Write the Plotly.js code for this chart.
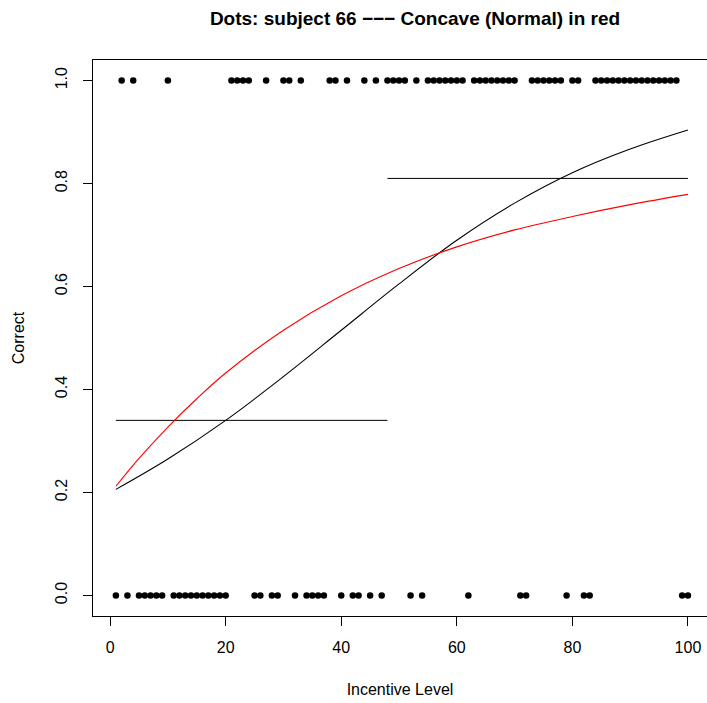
<!DOCTYPE html>
<html>
<head>
<meta charset="utf-8">
<script src="https://cdn.plot.ly/plotly-3.0.1.min.js"></script>
<style>html,body{margin:0;padding:0;background:#fff;}#chart{width:707px;height:703px;}</style>
</head>
<body>
<div id="chart"></div>
<script>
// Observed trials: incentive level and correct (0/1)
var incentive = [1,2,3,4,5,6,7,8,9,10,11,12,13,14,15,16,17,18,19,20,
  21,22,23,24,25,26,27,28,29,30,31,32,33,34,35,36,37,38,39,40,
  41,42,43,44,45,46,47,48,49,50,51,52,53,54,55,56,57,58,59,60,
  61,62,63,64,65,66,67,68,69,70,71,72,73,74,75,76,77,78,79,80,
  81,82,83,84,85,86,87,88,89,90,91,92,93,94,95,96,97,98,99,100];
var correct = [0,1,0,1,0,0,0,0,0,1,0,0,0,0,0,0,0,0,0,0,
  1,1,1,1,0,0,1,0,0,1,1,0,1,0,0,0,0,1,1,0,
  1,0,0,1,0,1,0,1,1,1,1,0,1,0,1,1,1,1,1,1,
  1,0,1,1,1,1,1,1,1,1,0,0,1,1,1,1,1,1,0,1,
  1,0,0,1,1,1,1,1,1,1,1,1,1,1,1,1,1,1,0,0];

// Group means (horizontal segments)
var lowSegX = [1, 48];
var lowSegY = [0.34, 0.34];
var highSegX = [48, 100];
var highSegY = [0.81, 0.81];

// Black fitted curve
var blackX = [1, 10, 20, 30, 40, 50, 60, 70, 80, 90, 100];
var blackY = [0.206, 0.265, 0.34, 0.425, 0.515, 0.605, 0.69, 0.762, 0.821, 0.867, 0.904];

// Red concave curve
var redX = [1, 5, 10, 15, 20, 30, 40, 50, 60, 70, 80, 90, 100];
var redY = [0.212, 0.266, 0.327, 0.382, 0.432, 0.515, 0.582, 0.635, 0.677, 0.71, 0.736, 0.759, 0.779];

var xTicks = [0, 20, 40, 60, 80, 100];
var yTicks = [0, 0.2, 0.4, 0.6, 0.8, 1.0];

var FONT = "Liberation Sans, Arial, Helvetica, sans-serif";

var traces = [
  {x: incentive, y: correct, type: 'scatter', mode: 'markers',
   marker: {color: '#000', size: 6.5}, hoverinfo: 'none'},
  {x: lowSegX, y: lowSegY, type: 'scatter', mode: 'lines',
   line: {color: '#000', width: 1}},
  {x: highSegX, y: highSegY, type: 'scatter', mode: 'lines',
   line: {color: '#000', width: 1}},
  {x: blackX, y: blackY, type: 'scatter', mode: 'lines',
   line: {color: '#000', width: 1.1, shape: 'spline', smoothing: 1}},
  {x: redX, y: redY, type: 'scatter', mode: 'lines',
   line: {color: '#ff0000', width: 1.1, shape: 'spline', smoothing: 1}}
];

var layout = {
  width: 707, height: 703,
  paper_bgcolor: '#fff', plot_bgcolor: '#fff',
  showlegend: false,
  font: {family: FONT, size: 16, color: '#000'},
  margin: {l: 93, r: 0, t: 60, b: 87, pad: 0},
  title: {text: '<b>Dots: subject 66 \u2212\u2212\u2212 Concave (Normal) in red</b>',
          font: {family: FONT, size: 19, color: '#000'},
          xref: 'container', yref: 'container', x: 415/707, y: 1 - 18/703,
          xanchor: 'center', yanchor: 'middle'},
  xaxis: {
    range: [-2.96, 103.3], autorange: false,
    tickvals: xTicks, ticktext: xTicks.map(String),
    ticks: 'outside', ticklen: 9, tickwidth: 1, tickcolor: '#000',
    ticklabelstandoff: 8,
    showline: true, linecolor: '#000', linewidth: 1, mirror: true,
    showgrid: false, zeroline: false,
    tickfont: {family: FONT, size: 16, color: '#000'},
    title: {text: 'Incentive Level', font: {family: FONT, size: 16, color: '#000'}, standoff: 28}
  },
  yaxis: {
    range: [-0.04, 1.04], autorange: false,
    tickvals: yTicks, ticktext: yTicks.map(function(v){return v.toFixed(1);}),
    tickangle: -90,
    ticks: 'outside', ticklen: 9, tickwidth: 1, tickcolor: '#000',
    ticklabelstandoff: 10,
    showline: true, linecolor: '#000', linewidth: 1, mirror: false,
    showgrid: false, zeroline: false,
    tickfont: {family: FONT, size: 16, color: '#000'},
    title: {text: 'Correct', font: {family: FONT, size: 16, color: '#000'}, standoff: 23}
  }
};

Plotly.newPlot('chart', traces, layout, {staticPlot: true, displayModeBar: false});
</script>
</body>
</html>
